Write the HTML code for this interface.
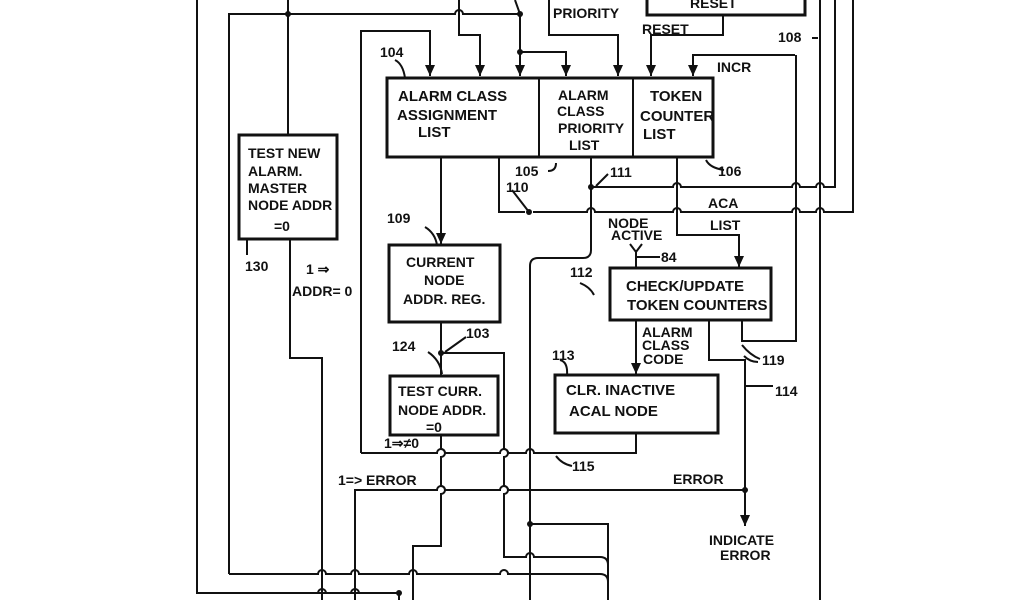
<!DOCTYPE html>
<html><head><style>
body{margin:0;background:#fff;}
svg{display:block;}
text{font-family:"Liberation Sans",sans-serif;font-weight:bold;font-size:14px;fill:#111;}
.b{font-size:15px;}
</style></head><body>
<svg width="1024" height="600" viewBox="0 0 1024 600" xmlns="http://www.w3.org/2000/svg">
<defs><marker id="a" markerWidth="10" markerHeight="12" refX="5" refY="11" orient="0" markerUnits="userSpaceOnUse"><path d="M0,0 L10,0 L5,11 Z" fill="#111"/></marker></defs>
<g fill="none" stroke="#111" stroke-width="2">
<rect x="647" y="-20" width="158" height="35" stroke-width="3"/>
<path d="M549,0 V35 H618 V76" marker-end="url(#a)"/>
<path d="M723,15 V35 H651 V76" marker-end="url(#a)"/>
<path d="M795,55 H693 V76" marker-end="url(#a)"/>
<path d="M229,574 V14 H455 a4,4 0 0 1 8,0 H520"/>
<path d="M459,0 V35 H480 V76" marker-end="url(#a)"/>
<path d="M515,0 L520,14 V76" marker-end="url(#a)"/>
<path d="M520,52 H566 V76" marker-end="url(#a)"/>
<path d="M288,0 V135"/>
<path d="M290,239 V358 H322 V600"/>
<path d="M197,0 V593 H399 V600"/>
<path d="M361,453 V31 H430 V76" marker-end="url(#a)"/>
<rect x="387" y="78" width="326" height="79" stroke-width="3"/>
<line x1="539" y1="78" x2="539" y2="157"/>
<line x1="633" y1="78" x2="633" y2="157"/>
<rect x="239" y="135" width="98" height="104" stroke-width="3"/>
<path d="M441,157 V244" marker-end="url(#a)"/>
<rect x="389" y="245" width="111" height="77" stroke-width="3"/>
<path d="M441,322 V376"/>
<rect x="390" y="376" width="108" height="59" stroke-width="3"/>
<path d="M441,353 H504 V449 a4,4 0 0 1 0,8 V486 a4,4 0 0 1 0,8 V557 H526 a4,4 0 0 1 8,0 H600 q8,0 8,8 V600"/>
<path d="M441,435 V449 a4,4 0 0 1 0,8 V486 a4,4 0 0 1 0,8 V546 H413 V600"/>
<path d="M499,157 V212 H525 M533,212 H587 a4,4 0 0 1 8,0 H673 a4,4 0 0 1 8,0 H792 a4,4 0 0 1 8,0 H816 a4,4 0 0 1 8,0 H853 V0"/>
<path d="M591,157 V250 q0,8 -8,8 H538 q-8,0 -8,8 V600"/>
<path d="M591,187 H673 a4,4 0 0 1 8,0 H792 a4,4 0 0 1 8,0 H816 a4,4 0 0 1 8,0 H835 V0"/>
<path d="M677,157 V235 H739 V267" marker-end="url(#a)"/>
<path d="M796,55 V341 H742 V320"/>
<path d="M820,0 V600"/>
<rect x="610" y="268" width="161" height="52" stroke-width="3"/>
<path d="M636,250 V268 M630,244 L636,252 L642,244 M636,257 H660"/>
<path d="M636,320 V374" marker-end="url(#a)"/>
<rect x="555" y="375" width="163" height="58" stroke-width="3"/>
<path d="M636,433 V453 H534 a4,4 0 0 0 -8,0 H508 a4,4 0 0 0 -8,0 H445 a4,4 0 0 0 -8,0 H361"/>
<path d="M709,320 V360 H745 V526" marker-end="url(#a)"/>
<path d="M355,600 V490 H437 a4,4 0 0 1 8,0 H500 a4,4 0 0 1 8,0 H745"/>
<path d="M530,524 H608 V600"/>
<path d="M229,574 H318 a4,4 0 0 1 8,0 H351 a4,4 0 0 1 8,0 H409 a4,4 0 0 1 8,0 H500 a4,4 0 0 1 8,0 H600 q8,0 8,8"/>
<path d="M197,593 H318 a4,4 0 0 1 8,0 H351 a4,4 0 0 1 8,0 H399"/>
<path d="M395,60 q8,4 10,18 M425,227 q10,6 12,18 M247,239 V255 M580,283 q10,4 14,12 M442,374 q-2,-14 -14,-22 M445,352 L466,337 M560,360 q8,2 7,15 M556,456 q6,8 16,10 M744,356 q6,6 14,6 M742,345 q8,10 18,14 M745,386 H773 M812,38 H818 M706,160 q4,8 18,10 M556,163 q0,8 -8,8 M596,186 L608,174 M512,190 L529,212"/>
</g>
<g fill="#111">
<circle cx="288" cy="14" r="3"/><circle cx="520" cy="14" r="3"/><circle cx="520" cy="52" r="3"/>
<circle cx="441" cy="353" r="3"/><circle cx="591" cy="187" r="3"/><circle cx="529" cy="212" r="3"/>
<circle cx="530" cy="524" r="3"/><circle cx="745" cy="490" r="3"/><circle cx="399" cy="593" r="3"/>
</g>
<text x="690" y="8">RESET</text>
<text x="553" y="18">PRIORITY</text>
<text x="642" y="34" font-size="12">RESET</text>
<text x="778" y="42">108</text>
<text x="717" y="72">INCR</text>
<text x="380" y="57">104</text>
<text class="b" x="398" y="101">ALARM CLASS</text>
<text class="b" x="397" y="120">ASSIGNMENT</text>
<text class="b" x="418" y="137">LIST</text>
<text x="558" y="100">ALARM</text>
<text x="557" y="116">CLASS</text>
<text x="558" y="133">PRIORITY</text>
<text x="569" y="150">LIST</text>
<text class="b" x="650" y="101">TOKEN</text>
<text class="b" x="640" y="121">COUNTER</text>
<text class="b" x="643" y="139">LIST</text>
<text x="515" y="176">105</text>
<text x="506" y="192">110</text>
<text x="610" y="177">111</text>
<text x="718" y="176">106</text>
<text x="708" y="208">ACA</text>
<text x="710" y="230">LIST</text>
<text x="248" y="158">TEST NEW</text>
<text x="248" y="176">ALARM.</text>
<text x="248" y="193">MASTER</text>
<text x="248" y="210">NODE ADDR</text>
<text x="274" y="231">=0</text>
<text x="245" y="271">130</text>
<text x="306" y="274">1 ⇒</text>
<text x="292" y="296">ADDR= 0</text>
<text x="387" y="223">109</text>
<text x="406" y="267">CURRENT</text>
<text x="424" y="285">NODE</text>
<text x="403" y="304">ADDR. REG.</text>
<text x="608" y="228" font-size="12">NODE</text>
<text x="611" y="240" font-size="12">ACTIVE</text>
<text x="661" y="262">84</text>
<text x="570" y="277">112</text>
<text class="b" x="626" y="291">CHECK/UPDATE</text>
<text class="b" x="627" y="310">TOKEN COUNTERS</text>
<text x="642" y="337" font-size="12">ALARM</text>
<text x="642" y="350" font-size="12">CLASS</text>
<text x="643" y="364" font-size="12">CODE</text>
<text x="762" y="365">119</text>
<text x="392" y="351">124</text>
<text x="466" y="338">103</text>
<text x="552" y="360">113</text>
<text class="b" x="566" y="395">CLR. INACTIVE</text>
<text class="b" x="569" y="416">ACAL NODE</text>
<text x="775" y="396">114</text>
<text x="398" y="396">TEST CURR.</text>
<text x="398" y="415">NODE ADDR.</text>
<text x="426" y="432">=0</text>
<text x="384" y="448" font-size="12">1⇒≠0</text>
<text x="572" y="471">115</text>
<text x="338" y="485" font-size="13">1=&gt; ERROR</text>
<text x="673" y="484">ERROR</text>
<text x="709" y="545" font-size="13">INDICATE</text>
<text x="720" y="560" font-size="13">ERROR</text>
</svg>
</body></html>
